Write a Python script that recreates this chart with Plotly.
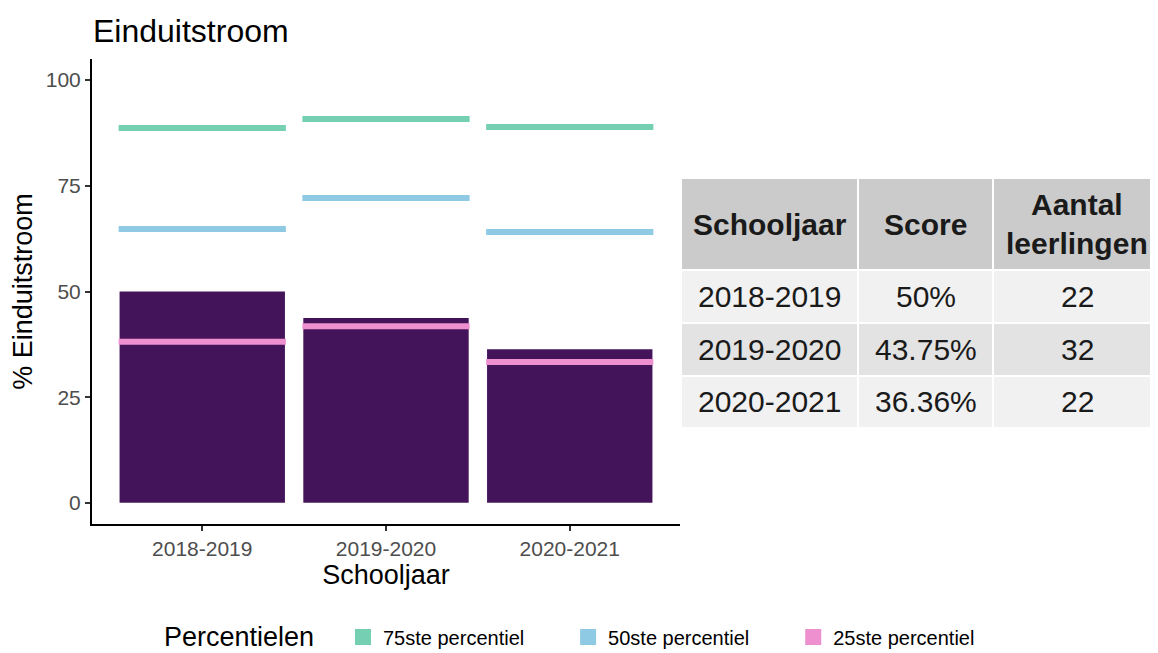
import plotly.graph_objects as go

# ---- data ----
years = ["2018-2019", "2019-2020", "2020-2021"]
score = [50, 43.75, 36.36]
p75 = [88.7, 90.8, 88.9]
p50 = [64.8, 72.1, 64.1]
p25 = [38.1, 41.8, 33.3]
n_leerlingen = [22, 32, 22]
yticks = [0, 25, 50, 75, 100]
table_header = ["<b>Schooljaar</b>", "<b>Score</b>", "<b>Aantal</b><br><b>leerlingen</b>"]
percentile_names = ["75ste percentiel", "50ste percentiel", "25ste percentiel"]
legend_title = "Percentielen"

# ---- style ----
BAR = "#44145B"
C75 = "#74CFB3"
C50 = "#8FCAE5"
C25 = "#EE90D0"
FONT = "Liberation Sans, Arial, sans-serif"

OFF = 8  # browser body margin
W, H = 1158 - OFF, 653 - OFF
ML, MR, MT, MB = 92 - OFF, 0, 59 - OFF, 653 - 524
PW = W - ML - MR
PH = H - MT - MB
plot_right = 680 - OFF


def px(x):
    return (x - OFF - ML) / PW


def py(y):
    return (H - MB - (y - OFF)) / PH


fig = go.Figure()
idx = list(range(len(years)))
fig.add_trace(go.Bar(x=idx, y=score, width=0.9, marker=dict(color=BAR, line=dict(width=0)),
                     showlegend=False, hoverinfo="skip"))

half = 0.455
for vals, col in [(p75, C75), (p50, C50), (p25, C25)]:
    for i, v in zip(idx, vals):
        fig.add_trace(go.Scatter(x=[i - half, i + half], y=[v, v], mode="lines",
                                 line=dict(color=col, width=6), showlegend=False, hoverinfo="skip"))

for col, name in zip([C75, C50, C25], percentile_names):
    fig.add_trace(go.Scatter(x=[None], y=[None], mode="markers", name=name + "       ",
                             marker=dict(symbol="square", size=16, color=col)))

# ---- table (shapes + text) ----
col_edges = [681, 858, 993, 1160]
row_edges = [178, 270, 323, 376, 428]
row_fills = ["#CBCBCB", "#F1F1F1", "#E3E3E3", "#F1F1F1"]
score_txt = [f"{s:g}%" for s in score]
rows = [table_header] + [[y, s, str(n)] for y, s, n in zip(years, score_txt, n_leerlingen)]

shapes = []
annotations = []
for r, row in enumerate(rows):
    y0, y1 = row_edges[r], row_edges[r + 1]
    for c, txt in enumerate(row):
        x0, x1 = col_edges[c], col_edges[c + 1]
        shapes.append(dict(type="rect", xref="paper", yref="paper",
                           x0=px(x0), x1=px(x1), y0=py(y1), y1=py(y0),
                           fillcolor=row_fills[r], line=dict(color="white", width=2), layer="below"))
        cx = (x0 + x1) / 2 if c < 2 else 1077
        annotations.append(dict(xref="paper", yref="paper", x=px(cx), y=py((y0 + y1) / 2),
                                text=txt, showarrow=False, xanchor="center", yanchor="middle",
                                font=dict(family=FONT, size=30, color="#1A1A1A")))

# legend title as text
annotations.append(dict(xref="paper", yref="paper", x=px(162), y=py(637), text=legend_title,
                        showarrow=False, xanchor="left", yanchor="middle",
                        font=dict(family=FONT, size=27, color="#000000")))

fig.update_layout(
    width=W, height=H,
    margin=dict(l=ML, r=MR, t=MT, b=MB, autoexpand=False),
    paper_bgcolor="white", plot_bgcolor="white",
    font=dict(family=FONT, color="#000000"),
    title=dict(text="Einduitstroom", font=dict(size=32, color="#000000"),
               xref="container", x=(93 - OFF) / W, xanchor="left",
               yref="container", y=1 - (31 - OFF) / H, yanchor="middle"),
    xaxis=dict(domain=[0, (plot_right - ML) / PW], range=[-0.6, 2.6],
               tickvals=idx, ticktext=years, showgrid=False, zeroline=False,
               showline=True, linecolor="#000000", linewidth=2,
               ticks="outside", ticklen=5, tickcolor="#333333", tickwidth=1.5,
               tickfont=dict(size=21, color="#4D4D4D"),
               title=dict(text="Schooljaar", font=dict(size=27, color="#000000"), standoff=4)),
    yaxis=dict(range=[-5, 105], tickvals=yticks, showgrid=False, zeroline=False,
               showline=True, linecolor="#000000", linewidth=2,
               ticks="outside", ticklen=5, tickcolor="#333333", tickwidth=1.5,
               tickfont=dict(size=21, color="#4D4D4D"),
               title=dict(text="% Einduitstroom", font=dict(size=27, color="#000000"), standoff=8)),
    legend=dict(orientation="h", x=px(343), xanchor="left",
                y=py(637), yanchor="middle",
                font=dict(size=20, color="#000000"), itemsizing="trace"),
    shapes=shapes,
    annotations=annotations,
)

fig.write_html("out.html")
